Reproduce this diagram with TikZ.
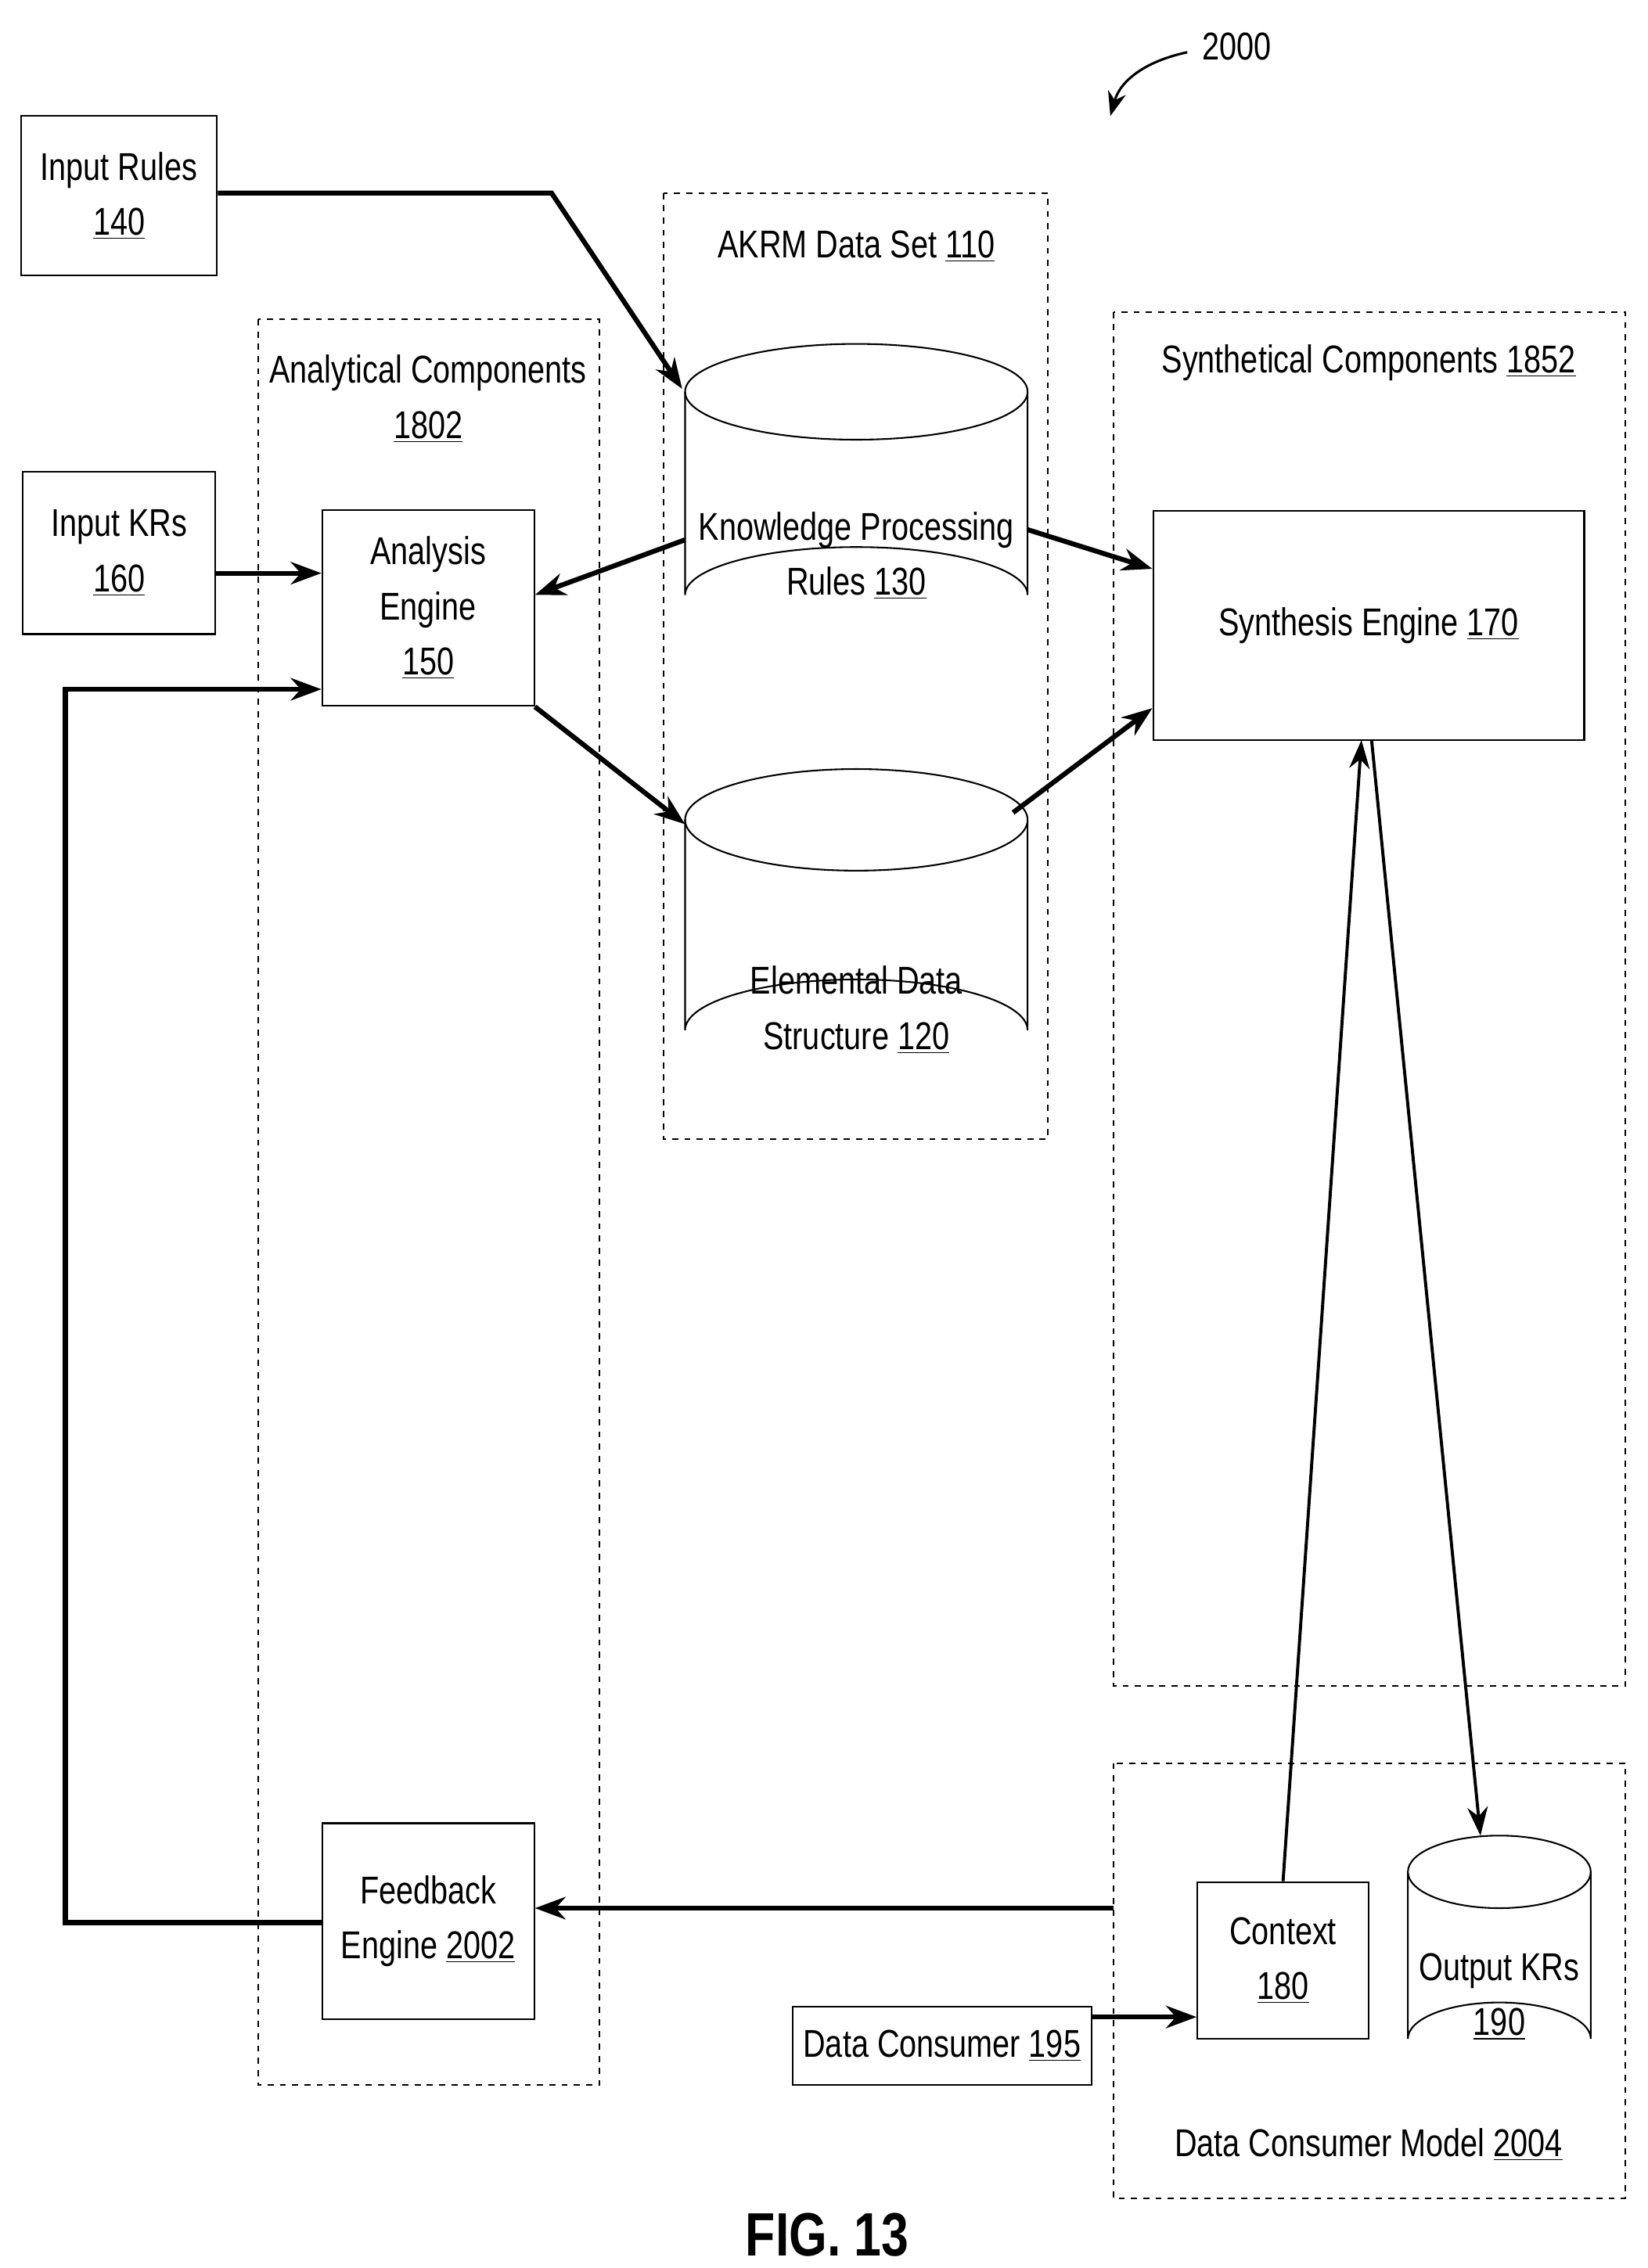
\documentclass[tikz,border=0pt]{standalone}
\usepackage{fontspec}
\setmainfont{Liberation Sans}[FakeStretch=0.8]
\usetikzlibrary{arrows.meta}

%drum shape: cx, top of lid centre y, bottom centre y, x radius, y radius
\newcommand{\drumShape}[5]{%
	\draw[line width=0.8pt] (#1,#2) ellipse [x radius=#4, y radius=#5];
	\draw[line width=0.8pt] ({#1-#4},#2) -- ({#1-#4},#3) arc[start angle=180, end angle=360, x radius=#4, y radius=#5] -- ({#1+#4},#2);
}

\begin{document}
\begin{tikzpicture}[x=0.025cm,y=-0.025cm,
	font=\fontsize{19}{23}\selectfont,
	box/.style={draw, line width=0.8pt, align=center, inner sep=0pt},
	group/.style={draw, dashed, line width=0.8pt},
	flow/.style={line width=2.4pt, -{Stealth[length=15pt,width=11pt]}},
	thinflow/.style={line width=1.5pt, -{Stealth[length=14pt,width=10pt]}}]

	\useasboundingbox (0,0) rectangle (1135,1563);

	%grouping frames
	\draw[group] (457,133) rectangle (722,785);
	\draw[group] (178,220) rectangle (413,1437);
	\draw[group] (767,215) rectangle (1120,1162);
	\draw[group] (767,1215) rectangle (1120,1515);
	\node (akrmLbl) at (590,170) {AKRM Data Set \underline{110}};
	\node[align=center] (anaLbl) at (295,275) {Analytical Components\\[4pt]\underline{1802}};
	\node (synLbl) at (943,250) {Synthetical Components \underline{1852}};
	\node (dcmLbl) at (943,1478) {Data Consumer Model \underline{2004}};

	%boxes
	\node[box, minimum width=135*0.025cm, minimum height=110*0.025cm] (rules) at (82,135) {Input Rules\\[4pt]\underline{140}};
	\node[box, minimum width=133*0.025cm, minimum height=112*0.025cm] (krs) at (82,381) {Input KRs\\[4pt]\underline{160}};
	\node[box, minimum width=146*0.025cm, minimum height=135*0.025cm] (analysis) at (295,419) {Analysis\\[4pt]Engine\\[4pt]\underline{150}};
	\node[box, minimum width=146*0.025cm, minimum height=135*0.025cm] (feedback) at (295,1324) {Feedback\\[4pt]Engine \underline{2002}};
	\node[box, minimum width=297*0.025cm, minimum height=158*0.025cm] (synthesis) at (943,431) {Synthesis Engine \underline{170}};
	\node[box, minimum width=118*0.025cm, minimum height=108*0.025cm] (context) at (884,1351) {Context\\[4pt]\underline{180}};
	\node[box, minimum width=206*0.025cm, minimum height=54*0.025cm] (consumer) at (649,1410) {Data Consumer \underline{195}};

	%data stores
	\drumShape{590}{270}{410}{118}{33}
	\node[align=center] (kpr) at (590,383) {Knowledge Processing\\[4pt]Rules \underline{130}};
	\drumShape{590}{565}{710}{118}{35}
	\node[align=center] (eds) at (590,696) {Elemental Data\\[4pt]Structure \underline{120}};
	\drumShape{1033}{1290}{1405}{63}{25}
	\node[align=center] (outkrs) at (1033,1376) {Output KRs\\[4pt]\underline{190}};

	%connectors
	\coordinate (ruleBend) at (380,133);
	\draw[flow] (rules.east |- ruleBend) -- (ruleBend) -- (470,268);
	\draw[flow] (krs.east |- 0,395) -- (analysis.west |- 0,395);
	\coordinate (loopBot) at (45,1325);
	\coordinate (loopTop) at (45,475);
	\draw[flow] (feedback.west |- loopBot) -- (loopBot) -- (loopTop) -- (analysis.west |- loopTop);
	\draw[flow] (472,372) -- (analysis.east |- 0,410);
	\draw[flow] (analysis.south east) -- (472,568);
	\draw[flow] (708,365) -- (synthesis.west |- 0,392);
	\draw[flow] (698,560) -- (synthesis.west |- 0,488);
	\draw[flow] (767,1315) -- (feedback.east |- 0,1315);
	\draw[flow] (consumer.east |- 0,1390) -- (context.west |- 0,1390);
	\draw[thinflow] (context.north) -- (938,510);
	\draw[thinflow] (945,510) -- (1020,1265);

	%figure reference
	\node (ref) at (852,32) {2000};
	\draw[line width=1.2pt, -{Stealth[length=12pt,width=9pt]}] (818,36) .. controls (790,42) and (772,55) .. (765,80);
	\node[font=\fontsize{30}{34}\selectfont\bfseries] (fig) at (570,1540) {FIG. 13};
\end{tikzpicture}
\end{document}
